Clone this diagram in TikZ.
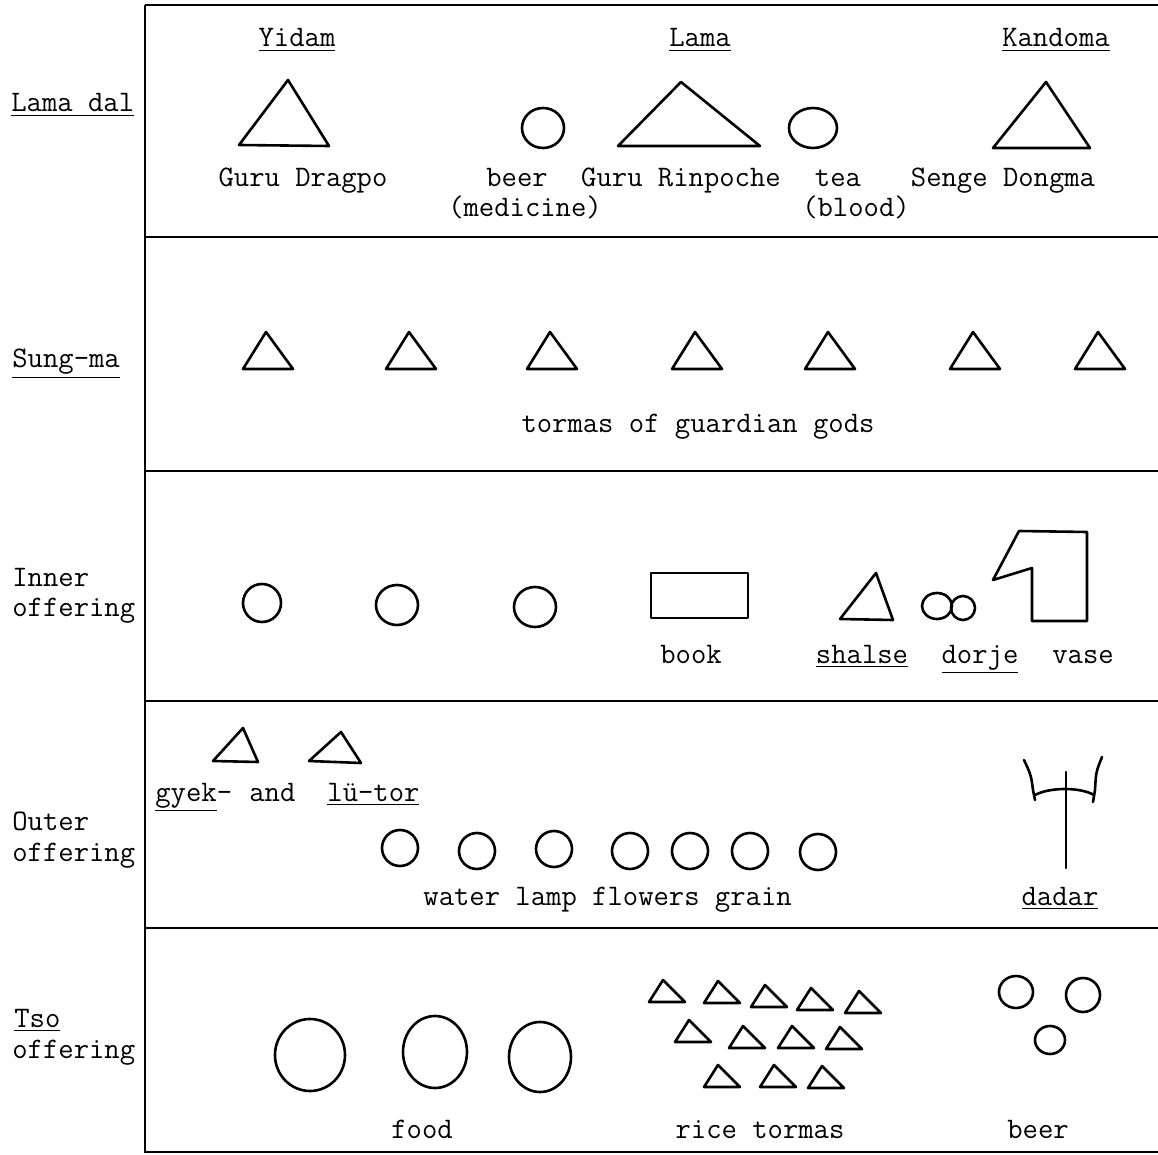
\documentclass[tikz,border=0pt]{standalone}
\usepackage{tikz}

\tikzset{
  lbl/.style={font=\fontsize{14.9}{17}\selectfont\ttfamily, anchor=base, inner sep=0pt},
  lblw/.style={lbl, anchor=base west},
  frame/.style={line width=0.8pt},
  sketch/.style={line width=1.3pt, line join=round, line cap=round},
}
\newcommand{\ul}[1]{\underline{#1}}

\begin{document}
\begin{tikzpicture}[x=0.5pt, y=-0.5pt]
        \useasboundingbox (0,0) rectangle (1158,1155);
        % frame of the table
        \draw[frame] (145,5) -- (1158,5);
        \draw[frame] (145,5) -- (145,1152) -- (1158,1152);
        \foreach \y in {237,471,701,928}
          \draw[frame] (145,\y) -- (1158,\y);
        % row names
        \node[lblw] (lamadal) at (11,112) {\ul{Lama dal}};
        \node[lblw] (sungma) at (12,368) {\ul{Sung-ma}};
        \node[lblw] (inner) at (12,586) {Inner};
        \node[lblw] (inneroff) at (12,617) {offering};
        \node[lblw] (outer) at (12,830) {Outer};
        \node[lblw] (outeroff) at (12,861) {offering};
        \node[lblw] (tso) at (14,1027) {\ul{Tso}};
        \node[lblw] (tsooff) at (12,1058) {offering};
        % Lama dal
        \node[lbl] (yidam) at (297,47) {\ul{Yidam}};
        \node[lbl] (lama) at (700,47) {\ul{Lama}};
        \node[lbl] (kandoma) at (1056,47) {\ul{Kandoma}};
        \draw[sketch] (288,80) -- (329,146) -- (239,145) -- cycle;
        \node[lbl] (dragpo) at (303,187) {Guru Dragpo};
        \draw[sketch] (543,128) ellipse (21 and 20);
        \node[lbl] (beera) at (517,187) {beer};
        \node[lbl] (medicine) at (525,217) {(medicine)};
        \draw[sketch] (681,82) -- (760,146) -- (618,146) -- cycle;
        \node[lbl] (rinpoche) at (681,187) {Guru Rinpoche};
        \draw[sketch] (813,128) ellipse (24 and 20);
        \node[lbl] (tea) at (838,187) {tea};
        \node[lbl] (blood) at (856,217) {(blood)};
        \draw[sketch] (1046,82) -- (1090,148) -- (993,148) -- cycle;
        \node[lbl] (dongma) at (1003,187) {Senge Dongma};
        % Sung-ma
        \foreach \x in {268,411,552,697,830,975,1100}
          \draw[sketch] (\x-2,332) -- (\x+25,369) -- (\x-25,369) -- cycle;
        \node[lbl] (guardian) at (698,433) {tormas of guardian gods};
        % Inner offering
        \draw[sketch] (262,603) ellipse (19 and 19);
        \draw[sketch] (397,605) ellipse (21 and 20);
        \draw[sketch] (535,607) ellipse (21 and 20);
        \draw[sketch] (651,573) rectangle (748,618);
        \node[lbl] (book) at (691,663) {book};
        \draw[sketch] (876,573) -- (893,620) -- (840,619) -- cycle;
        \node[lbl] (shalse) at (862,663) {\ul{shalse}};
        \draw[sketch] (937,606) ellipse (15 and 13);
        \draw[sketch] (963,608) ellipse (12 and 12);
        \node[lbl] (dorje) at (980,663) {\ul{dorje}};
        \draw[sketch] (993,580) -- (1019,531) -- (1087,532) -- (1087,621)
          -- (1032,621) -- (1032,568) -- cycle;
        \node[lbl] (vase) at (1083,663) {vase};
        % Outer offering
        \draw[sketch] (243,728) -- (258,762) -- (213,761) -- cycle;
        \draw[sketch] (341,732) -- (361,763) -- (309,761) -- cycle;
        \node[lblw] (gyek) at (155,801) {\ul{gyek}-};
        \node[lblw] (and) at (249,801) {and};
        \node[lblw] (lutor) at (327,801) {\ul{lü-tor}};
        \foreach \x/\y in {400/848,477/851,554/849,630/851,690/851,750/851,818/852}
          \draw[sketch] (\x,\y) ellipse (18 and 18);
        \node[lblw] (water) at (423,905) {water lamp flowers grain};
        \draw[sketch] (1066,772) -- (1066,868);
        \draw[sketch] (1035,795) .. controls (1050,787) and (1080,787) .. (1094,795);
        \draw[sketch] (1024,760) .. controls (1031,775) .. (1033,790) -- (1035,800);
        \draw[sketch] (1102,757) .. controls (1096,772) .. (1095,790) -- (1093,802);
        \node[lbl] (dadar) at (1060,905) {\ul{dadar}};
        % Tso offering
        \draw[sketch] (310,1055) ellipse (35 and 36);
        \draw[sketch] (435,1052) ellipse (32 and 36);
        \draw[sketch] (540,1057) ellipse (31 and 35);
        \node[lbl] (food) at (422,1138) {food};
        \foreach \x/\y in {667/1002,722/1003,769/1007,815/1010,863/1013,
                           693/1042,747/1048,796/1048,844/1049,
                           722/1087,778/1087,826/1088}
          \draw[sketch] (\x-4,\y-22) -- (\x+18,\y) -- (\x-18,\y) -- cycle;
        \node[lbl] (rice) at (760,1138) {rice tormas};
        \draw[sketch] (1016,992) ellipse (17 and 16);
        \draw[sketch] (1083,995) ellipse (17 and 17);
        \draw[sketch] (1050,1040) ellipse (15 and 14);
        \node[lbl] (beerb) at (1038,1138) {beer};
      \end{tikzpicture}
\end{document}
